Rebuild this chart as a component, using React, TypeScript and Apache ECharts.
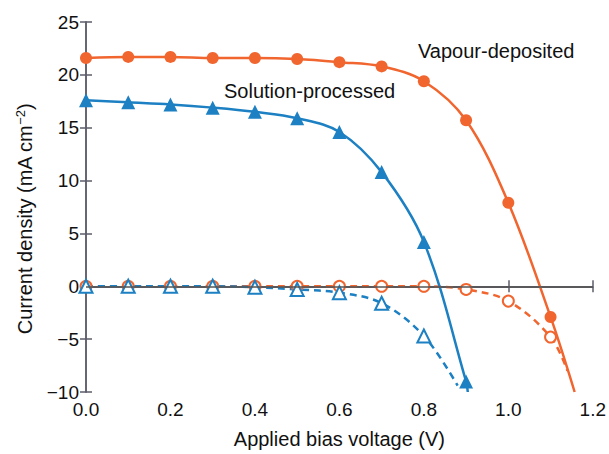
import React, { useEffect, useRef } from "react";
import * as echarts from "echarts";

const voltages = [0.0, 0.1, 0.2, 0.3, 0.4, 0.5, 0.6, 0.7, 0.8, 0.9, 1.0, 1.1];
const vapourLight = [21.6, 21.7, 21.7, 21.6, 21.6, 21.5, 21.2, 20.8, 19.4, 15.7, 7.9, -2.9];
const vapourLightEnd = [1.157, -10];
const solutionLight = [17.6, 17.4, 17.2, 16.9, 16.5, 15.9, 14.6, 10.8, 4.2, -9.0];
const solutionLightEnd = [0.904, -10];
const vapourDark = [0.0, 0.0, 0.0, 0.0, 0.0, 0.0, 0.0, 0.0, 0.0, -0.3, -1.4, -4.8];
const vapourDarkEnd = [1.14, -8.0];
const solutionDark = [0.0, 0.0, 0.0, 0.0, -0.1, -0.3, -0.6, -1.6, -4.7];
const solutionDarkEnd = [0.88, -9.4];
const xTicks = { min: 0, max: 1.2, interval: 0.2 };
const yTicks = { min: -10, max: 25, interval: 5 };

const ORANGE = "#f1652f";
const BLUE = "#1c80c3";
const AXIS = "#5d5d6b";
const FONT = "Liberation Sans, Arial, Helvetica, sans-serif";

function pairs(values: number[], end: number[]) {
  const d: any[] = values.map((v, i) => [voltages[i], v]);
  d.push({ value: end, symbol: "none" });
  return d;
}

export default function App() {
  const ref = useRef<HTMLDivElement>(null);
  useEffect(() => {
    if (!ref.current) return;
    const chart = echarts.init(ref.current, undefined, { renderer: "svg" });
    const axisCommon = {
      axisLine: { show: true, lineStyle: { color: AXIS, width: 1.5 } },
      axisTick: { show: true, inside: true, length: 6, lineStyle: { color: AXIS, width: 1.5 } },
      splitLine: { show: false },
    };
    chart.setOption({
      animation: false,
      backgroundColor: "#ffffff",
      textStyle: { fontFamily: FONT },
      grid: { left: 86, right: 16, top: 22, bottom: 61, containLabel: false },
      xAxis: [
        {
          type: "value",
          position: "bottom",
          ...xTicks,
          ...axisCommon,
          axisLabel: {
            fontSize: 19,
            color: "#111",
            margin: 8,
            fontFamily: FONT,
            formatter: (v: number) => v.toFixed(1),
          },
          name: "Applied bias voltage (V)",
          nameLocation: "middle",
          nameGap: 37,
          nameTextStyle: { fontSize: 20, color: "#111", fontFamily: FONT },
        },
        {
          type: "value",
          position: "top",
          ...xTicks,
          ...axisCommon,
          axisLabel: { show: false },
        },
      ],
      yAxis: [
        {
          type: "value",
          position: "left",
          ...yTicks,
          ...axisCommon,
          axisLabel: {
            fontSize: 19,
            color: "#111",
            margin: 7,
            fontFamily: FONT,
            formatter: (v: number) => String(v).replace("-", "\u2212"),
          },
          name: "Current density (mA cm{sup|\u22122})",
          nameLocation: "middle",
          nameGap: 50,
          nameTextStyle: {
            fontSize: 20,
            color: "#111",
            fontFamily: FONT,
            padding: [0, 24, 0, 0],
            rich: {
              sup: { fontSize: 13, color: "#111", fontFamily: FONT, verticalAlign: "top", padding: [0, 0, 9, 0] },
            },
          },
        },
        {
          type: "value",
          position: "right",
          ...yTicks,
          ...axisCommon,
          axisLabel: { show: false },
        },
      ],
      graphic: [
        {
          type: "text",
          left: 418,
          top: 41,
          style: { text: "Vapour-deposited", fontSize: 20, fill: "#111", fontFamily: FONT },
        },
        {
          type: "text",
          left: 224,
          top: 81,
          style: { text: "Solution-processed", fontSize: 20, fill: "#111", fontFamily: FONT },
        },
      ],
      series: [
        {
          type: "line",
          data: [],
          z: 1,
          markLine: {
            silent: true,
            symbol: "none",
            label: { show: false },
            lineStyle: { color: "#555", width: 1.5, type: "solid" },
            data: [{ yAxis: 0 }],
          },
        },
        {
          name: "Vapour dark",
          type: "line",
          z: 3,
          data: pairs(vapourDark, vapourDarkEnd),
          smooth: 0.35,
          symbol: "emptyCircle",
          symbolSize: 11,
          color: ORANGE,
          itemStyle: { color: ORANGE, borderWidth: 2 },
          lineStyle: { color: ORANGE, width: 2.5, type: [7, 5] },
        },
        {
          name: "Solution dark",
          type: "line",
          z: 3,
          data: pairs(solutionDark, solutionDarkEnd),
          smooth: 0.35,
          symbol: "emptyTriangle",
          symbolSize: 13,
          color: BLUE,
          itemStyle: { color: BLUE, borderWidth: 2 },
          lineStyle: { color: BLUE, width: 2.5, type: [7, 5] },
        },
        {
          name: "Vapour light",
          type: "line",
          z: 4,
          data: pairs(vapourLight, vapourLightEnd),
          smooth: 0.35,
          symbol: "circle",
          symbolSize: 12,
          color: ORANGE,
          itemStyle: { color: ORANGE },
          lineStyle: { color: ORANGE, width: 2.5 },
        },
        {
          name: "Solution light",
          type: "line",
          z: 4,
          data: pairs(solutionLight, solutionLightEnd),
          smooth: 0.35,
          symbol: "triangle",
          symbolSize: 14,
          color: BLUE,
          itemStyle: { color: BLUE },
          lineStyle: { color: BLUE, width: 2.5 },
        },
      ],
    });
    return () => chart.dispose();
  }, []);
  return <div ref={ref} style={{ width: 609, height: 454, position: "absolute", left: 0, top: 0 }} />;
}
